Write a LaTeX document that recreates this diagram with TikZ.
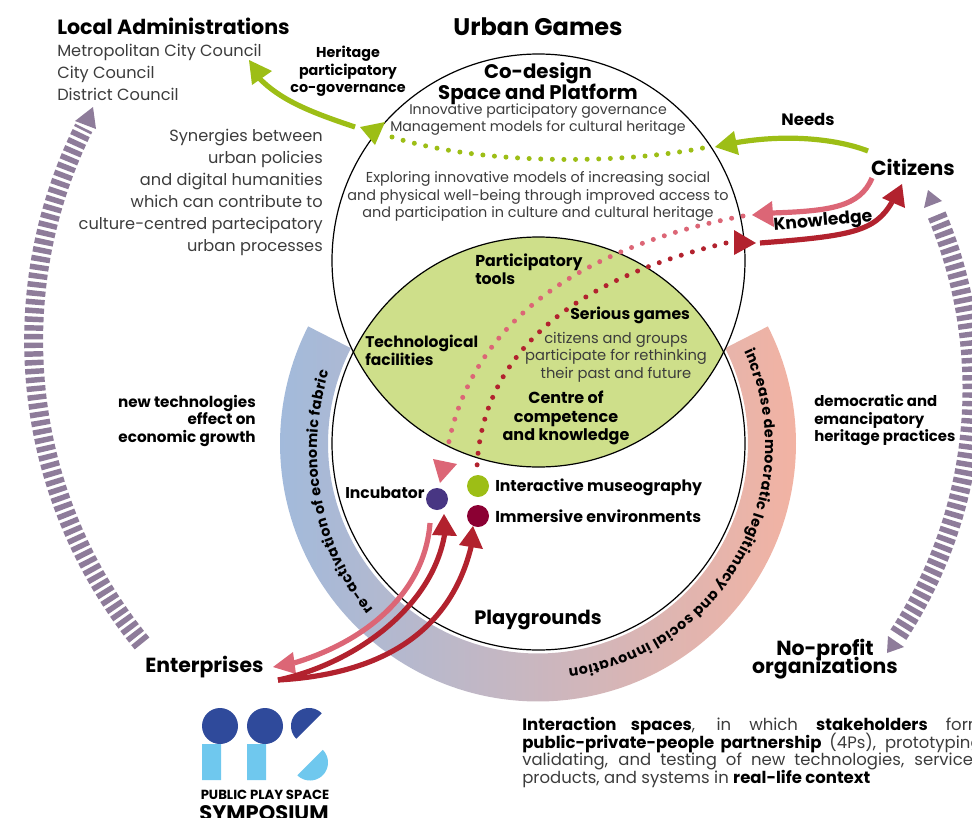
\documentclass[tikz,border=0pt]{standalone}
\usepackage{fontspec}
\setmainfont{Poppins}
\usetikzlibrary{decorations.text}
\newcommand\fz[2]{\edef\fza{\the\dimexpr#1pt*3/4\relax}\edef\fzb{\the\dimexpr#2pt*3/4\relax}\fontsize{\fza}{\fzb}\selectfont\lineskiplimit=-100pt\relax}
\definecolor{gr}{HTML}{9DBE16}
\definecolor{pk}{HTML}{DC6676}
\definecolor{rd}{HTML}{B2222E}
\definecolor{pu}{HTML}{8E7C9A}
\definecolor{lens}{HTML}{CEDF8A}
\definecolor{tx}{HTML}{3C3C3C}
\definecolor{navy}{HTML}{2F4A9B}
\definecolor{sky}{HTML}{6FC8EE}
\definecolor{bandl}{HTML}{A2BADB}
\definecolor{bandr}{HTML}{F2B3A3}
\definecolor{dotg}{HTML}{9DBE16}
\definecolor{dotr}{HTML}{8B0033}
\definecolor{dotb}{HTML}{483683}
\tikzset{
  lab/.style={inner sep=0pt,text=black},
  plain/.style={inner sep=0pt,font=\fz{16.2}{22},text=tx},
  big/.style={inner sep=0pt,font=\fz{20.4}{18.5}\bfseries,text=black},
  sol/.style={line width=3.9pt},
  dots/.style={line width=3.75pt,line cap=round,dash pattern=on 0pt off 8.7pt},
  ticks/.style={line width=14.2pt,draw=pu,dash pattern=on 4.1pt off 2.4pt},
  ring/.style={circle,draw=black,line width=0.9pt,minimum size=309.75pt,inner sep=0pt},
  dot/.style={circle,minimum size=16.5pt,inner sep=0pt},
}
\begin{document}
\begin{tikzpicture}[x=0.75pt,y=-0.75pt]
\useasboundingbox (0,0) rectangle (972,818);
% band
\shade[left color=bandl,right color=bandr]
  plot[domain=153:387,samples=140] ({538+258*cos(\x)},{443.5-258*sin(\x)})
  -- plot[domain=387:153,samples=140] ({538+210*cos(\x)},{443.5-210*sin(\x)}) -- cycle;
% lens
\begin{scope}
  \clip (538.5,260.5) circle[radius=154.875pt];
  \fill[lens] (538.5,443.5) circle[radius=154.875pt];
\end{scope}
\node[ring] (upper) at (538.5,260.5) {};
\node[ring] (lower) at (538.5,443.5) {};
% band text
\begin{scope}[y=0.75pt,yshift=-613.5pt]
  \path[decorate,decoration={text along path,text align={fit to path},
    text={|\fz{14.3}{17}\bfseries|re-activation of economic fabric}}]
    ({570+253*cos(219)},{368+253*sin(219)}) arc[start angle=219,end angle=162,radius=189.75pt];
  \path[decorate,decoration={text along path,text align={fit to path},
    text={|\fz{14.3}{17}\bfseries|increase democratic legitimacy and social innovation}}]
    ({541+224*cos(25)},{372+224*sin(25)}) arc[start angle=25,end angle=-83,radius=168pt];
\end{scope}
% side arcs
\draw[ticks] plot[domain=219.4:153.5,samples=100] ({510.6+477*cos(\x)},{340.7-477*sin(\x)});
\fill[pu] (93,107) -- (75,121) -- (96,129) -- cycle;
\draw[ticks] plot[domain=22.9:-33.4,samples=100] ({525+447*cos(\x)},{389-447*sin(\x)});
\fill[pu] (928,190) -- (924,208) -- (942,201) -- cycle;
\fill[pu] (887,653) -- (888,636) -- (904,647) -- cycle;
% text
\node[inner sep=0pt,font=\fz{24}{28}\bfseries] (title) at (538,27) {Urban Games};
\node[inner sep=0pt,anchor=west,font=\fz{20.6}{24}\bfseries] (locadm) at (57,26) {Local Administrations};
\node[plain,anchor=north west,align=left] (councils) at (57,44) {Metropolitan City Council\\City Council\\District Council};
\node[plain,anchor=east,align=right] (syn) at (323,192) {Synergies between\\urban policies\\and digital humanities\\which can contribute to\\culture-centred partecipatory\\urban processes};
\node[lab,align=center,font=\fz{14.3}{17.5}\bfseries] (herit) at (348,71.5) {Heritage\\participatory\\co-governance};
\node[lab,align=center,font=\fz{19.7}{21}\bfseries] (codes) at (538,84) {Co-design\\Space and Platform};
\node[inner sep=0pt,align=center,text=tx,font=\fz{14.1}{17}] (innov) at (538,119.5) {Innovative participatory governance\\Management models for cultural heritage};
\node[inner sep=0pt,align=center,text=tx,font=\fz{14.4}{17.6}] (explo) at (538,196.5) {Exploring innovative models of increasing social\\and physical well-being through improved access to\\and participation in culture and cultural heritage};
\node[lab,font=\fz{16.5}{20}\bfseries] (needs) at (808,119) {Needs};
\node[big] (citiz) at (913,167) {Citizens};
\node[lab,rotate=5,font=\fz{17.2}{20}\bfseries] (knowl) at (823,222) {Knowledge};
\node[lab,anchor=west,align=left,font=\fz{15.8}{18}\bfseries] (ptools) at (475,269) {Participatory\\tools};
\node[lab,anchor=west,align=left,font=\fz{15.5}{18}\bfseries] (techf) at (365,350) {Technological\\facilities};
\node[lab,anchor=west,font=\fz{15.7}{18}\bfseries] (serg) at (570,315.5) {Serious games};
\node[inner sep=0pt,align=center,text=tx,font=\fz{14.7}{17.5}] (citgr) at (616,357) {citizens and groups\\participate for rethinking\\their past and future};
\node[lab,align=center,font=\fz{16}{18.5}\bfseries] (centre) at (566,418) {Centre of\\competence\\and knowledge};
\node[lab,anchor=west,font=\fz{15.6}{18}\bfseries] (incub) at (345,492.5) {Incubator};
\node[lab,anchor=west,font=\fz{15.7}{18}\bfseries] (intmus) at (495,487) {Interactive museography};
\node[lab,anchor=west,font=\fz{15.8}{18}\bfseries] (imenv) at (495,516.5) {Immersive environments};
\node[lab,font=\fz{19.4}{20}\bfseries] (play) at (538,619.5) {Playgrounds};
\node[big,anchor=west] (enter) at (145,667) {Enterprises};
\node[big,align=center] (nopro) at (825,659) {No-profit\\organizations};
\node[lab,anchor=east,align=right,font=\fz{15.2}{17.5}\bfseries] (newt) at (256,420.5) {new technologies\\effect on\\economic growth};
\node[lab,anchor=west,align=left,font=\fz{14.9}{17.5}\bfseries] (demo) at (814,420.5) {democratic and\\emancipatory\\heritage practices};
% dots
\node[dot,fill=dotg] (dgreen) at (478,486) {};
\node[dot,fill=dotr] (dred) at (478,516) {};
\node[dot,fill=dotb] (dblue) at (437,499) {};
% connector ends
\coordinate (h1) at (355,127); \coordinate (h2) at (258,77);
\coordinate (g1) at (392,137); \coordinate (g2) at (708,147);
\coordinate (n1) at (868,151); \coordinate (n2) at (734,143);
\coordinate (p1) at (872,178); \coordinate (p2) at (772,213);
\coordinate (r1) at (760,243); \coordinate (r2) at (892,202);
\coordinate (pd1) at (743,216); \coordinate (pd2) at (447,452);
\coordinate (rd1) at (726,243); \coordinate (rd2) at (477,467);
\coordinate (e1) at (430,523); \coordinate (e2) at (294,663);
\coordinate (s) at (278,680); \coordinate (t1) at (445,532); \coordinate (t2) at (472,543);
% green
\draw[gr,sol] (h1) .. controls (310,112) and (280,100) .. (h2);
\fill[gr] (249,60) -- (272,71) -- (252,85) -- cycle;
\fill[gr] (360,127) -- (385,122) -- (375,145) -- cycle;
\draw[gr,dots] (g1) .. controls (480,165) and (620,165) .. (g2);
\draw[gr,sol] (n1) .. controls (840,140) and (790,133) .. (n2);
\fill[gr] (715,147) -- (734,131) -- (739,155) -- cycle;
% citizens
\draw[pk,sol] (p1) .. controls (860,207) and (830,211) .. (p2);
\fill[pk] (752,215) -- (772,201) -- (774,227) -- cycle;
\draw[rd,sol] (r1) .. controls (850,236) and (875,232) .. (r2);
\fill[rd] (902,184) -- (882,198) -- (905,208) -- cycle;
\fill[rd] (756,243) -- (734,230) -- (734,255) -- cycle;
\draw[pk,dots] (pd1) .. controls (590,245) and (470,316) .. (pd2);
\draw[rd,dots] (rd1) .. controls (570,280) and (482,355) .. (rd2);
\fill[pk] (433,459) -- (457,464) -- (440,483) -- cycle;
% enterprises
\draw[pk,sol] (e1) .. controls (425,590) and (370,640) .. (e2);
\fill[pk] (273,667) -- (293,652) -- (296,674) -- cycle;
\draw[rd,sol] (s) .. controls (350,665) and (433,610) .. (t1);
\draw[rd,sol] (s) .. controls (370,675) and (450,640) .. (t2);
\fill[rd] (444,514) -- (432,535) -- (457,536) -- cycle;
\fill[rd] (473,526) -- (459,545) -- (483,549) -- cycle;
% logo
\fill[navy] (220,726) circle[radius=13.5pt] (265,726) circle[radius=13.5pt];
\fill[sky] (202,744) rectangle (221,780) (247,744) rectangle (266,780);
\fill[navy] plot[domain=45:225,samples=40] ({309+18*cos(\x)},{726-18*sin(\x)}) -- cycle;
\fill[sky] plot[domain=225:405,samples=40] ({310+18*cos(\x)},{762.5-18*sin(\x)}) -- cycle;
\node[inner sep=0pt,font=\fz{13.2}{14}\bfseries] (pps) at (265,795) {PUBLIC PLAY SPACE};
\node[inner sep=0pt,font=\fz{21}{22}\bfseries] (symp) at (264,813) {SYMPOSIUM};
% bottom text
\node[inner sep=0pt,anchor=north west,align=left,text=tx,font=\fz{16.5}{17.6}] (inter) at (522,717) {%
\makebox[347pt][s]{\textcolor{black}{\textbf{Interaction spaces}}, in which \textcolor{black}{\textbf{stakeholders}} form}\\
\makebox[347pt][s]{\textcolor{black}{\textbf{public-private-people partnership}} (4Ps), prototyping,}\\
\makebox[347pt][s]{validating, and testing of new technologies, services,}\\
products, and systems in \textcolor{black}{\textbf{real-life context}}};
\end{tikzpicture}
\end{document}
